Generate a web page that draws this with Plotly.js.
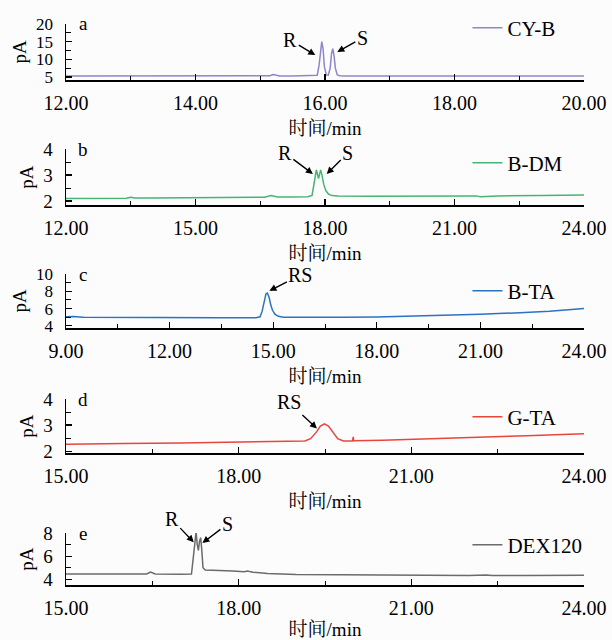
<!DOCTYPE html>
<html>
<head>
<meta charset="utf-8">
<script src="https://cdn.plot.ly/plotly-3.0.1.min.js"></script>
<style>html,body{margin:0;padding:0;background:#fcfcfc;}#chart{width:612px;height:640px;}</style>
</head>
<body>
<div id="chart"></div>
<script>
// ---- data ----
const namesSeries = ['CY-B', 'B-DM', 'B-TA', 'G-TA', 'DEX120'];
const panelLetters = ['a', 'b', 'c', 'd', 'e'];

const cybTime = [12.0, 13.0, 14.0, 15.0, 15.15, 15.2, 15.25, 15.3, 15.5, 15.8, 15.88, 15.91, 15.93, 15.95, 15.97, 15.99, 16.02, 16.05, 16.08, 16.10, 16.12, 16.14, 16.16, 16.19, 16.23, 16.3, 16.6, 17.0, 18.0, 19.0, 19.5, 19.6, 19.7, 20.0];
const cybSignal = [5.3, 5.3, 5.3, 5.3, 5.35, 5.7, 5.4, 5.3, 5.3, 5.3, 5.5, 8.5, 13.0, 15.0, 13.0, 8.0, 5.6, 5.5, 7.5, 11.5, 13.0, 11.0, 7.5, 5.6, 5.35, 5.3, 5.3, 5.3, 5.3, 5.3, 5.3, 5.2, 5.3, 5.3];

const bdmTime = [12.0, 12.5, 13.0, 13.4, 13.5, 13.6, 14.0, 15.0, 16.0, 16.6, 16.75, 16.9, 17.2, 17.6, 17.70, 17.74, 17.77, 17.80, 17.83, 17.85, 17.87, 17.90, 17.93, 17.97, 18.02, 18.08, 18.16, 18.3, 19.0, 20.0, 21.0, 21.5, 21.6, 22.0, 23.0, 23.5, 24.0];
const bdmSignal = [2.1, 2.1, 2.11, 2.11, 2.15, 2.12, 2.12, 2.13, 2.14, 2.15, 2.21, 2.16, 2.16, 2.17, 2.22, 2.65, 3.05, 3.2, 3.0, 2.86, 3.0, 3.2, 3.0, 2.65, 2.4, 2.27, 2.21, 2.2, 2.19, 2.19, 2.19, 2.2, 2.17, 2.2, 2.21, 2.23, 2.23];

const btaTime = [9.0, 9.2, 9.5, 10.5, 12.0, 13.5, 14.5, 14.62, 14.68, 14.74, 14.79, 14.83, 14.88, 14.93, 14.98, 15.05, 15.15, 15.3, 16.0, 17.0, 18.0, 19.0, 20.0, 21.0, 22.0, 23.0, 24.0];
const btaSignal = [5.05, 5.08, 5.0, 4.97, 4.95, 4.93, 4.95, 5.05, 5.7, 6.9, 7.7, 7.8, 7.3, 6.4, 5.8, 5.35, 5.1, 5.0, 4.97, 4.98, 5.02, 5.1, 5.2, 5.33, 5.5, 5.7, 6.0];

const gtaTime = [15.0, 15.5, 16.0, 17.0, 18.0, 18.5, 19.0, 19.15, 19.25, 19.35, 19.42, 19.49, 19.56, 19.63, 19.72, 19.82, 19.98, 19.99, 20.0, 20.5, 21.0, 22.0, 23.0, 24.0];
const gtaSignal = [2.27, 2.27, 2.29, 2.31, 2.34, 2.35, 2.37, 2.39, 2.48, 2.73, 2.96, 3.05, 2.96, 2.73, 2.48, 2.39, 2.39, 2.55, 2.4, 2.42, 2.45, 2.51, 2.59, 2.67];

const dexTime = [15.0, 15.5, 16.0, 16.4, 16.47, 16.55, 17.0, 17.18, 17.21, 17.24, 17.26, 17.28, 17.30, 17.32, 17.34, 17.36, 17.38, 17.42, 17.6, 17.9, 18.1, 18.15, 18.25, 18.5, 19.0, 19.5, 19.55, 19.6, 20.0, 21.0, 22.0, 22.3, 22.4, 23.0, 24.0];
const dexSignal = [4.45, 4.45, 4.43, 4.45, 4.62, 4.45, 4.43, 4.45, 5.8, 7.6, 8.1, 7.0, 6.5, 7.3, 7.6, 6.5, 5.0, 4.8, 4.78, 4.72, 4.65, 4.7, 4.6, 4.5, 4.4, 4.38, 4.43, 4.38, 4.35, 4.32, 4.33, 4.37, 4.33, 4.33, 4.35];

const xRanges = [[12, 20], [12, 24], [9, 24], [15, 24], [15, 24]];
const xMajorStep = [2, 3, 3, 3, 3];
const xMinorStep = [1, 1.5, 1.5, 1.5, 1.5];
const yRanges = [[4.15, 20], [1.85, 4], [3.75, 10], [1.93, 4], [3.5, 8]];
const yTickValues = [[5, 10, 15, 20], [2, 3, 4], [4, 6, 8, 10], [2, 3, 4], [4, 6, 8]];
const yMinorStep = [2.5, 0.5, 1, 0.5, 1];

// annotations: panel index, label, target x, target y, text offset x, text offset y
const peakPanel = [0, 0, 1, 1, 2, 3, 4, 4];
const peakLabel = ['R', 'S', 'R', 'S', 'RS', 'RS', 'R', 'S'];
const peakX = [15.85, 16.19, 17.72, 18.04, 14.89, 19.36, 17.22, 17.37];
const peakY = [11.2, 12.1, 3.04, 3.04, 8.05, 2.87, 7.2, 7.13];
const peakAx = [-25, 25, -28, 21, 31, -28, -22, 25];
const peakAy = [-15, -14, -21, -21, -16, -26, -23, -19];

// ---- styling ----
const seriesTimes = [cybTime, bdmTime, btaTime, gtaTime, dexTime];
const seriesSignals = [cybSignal, bdmSignal, btaSignal, gtaSignal, dexSignal];
const colors = ['#8e86c9', '#45b572', '#2b73c2', '#e8453e', '#6b6b6b'];
const fam = '"Liberation Serif", "Times New Roman", "Noto Serif CJK SC", "Noto Sans CJK SC", serif';
const H = 640;
const pxDomains = [[24, 80], [149, 205], [274, 328], [399, 453], [533, 585]];
const legendY = [28, 163, 291, 417, 545];
const yTickFontSize = [17, 19, 17, 19, 19];

const traces = [];
const layout = {
  width: 612, height: 640,
  margin: {l: 66, r: 28, t: 0, b: 0},
  paper_bgcolor: '#fcfcfc', plot_bgcolor: 'rgba(0,0,0,0)',
  font: {family: fam, size: 19, color: '#000'},
  annotations: [],
  showlegend: true
};

for (let i = 0; i < 5; i++) {
  const sfx = i === 0 ? '' : String(i + 1);
  const legName = 'legend' + sfx;
  traces.push({
    x: seriesTimes[i], y: seriesSignals[i], type: 'scatter', mode: 'lines',
    name: namesSeries[i], line: {color: colors[i], width: 1.5},
    xaxis: 'x' + sfx, yaxis: 'y' + sfx, legend: legName
  });
  layout[legName] = {
    x: 0.775, xanchor: 'left', y: 1 - legendY[i] / H, yanchor: 'middle',
    bgcolor: 'rgba(0,0,0,0)', font: {family: fam, size: 21}, itemwidth: 30
  };
  const dom = pxDomains[i];
  layout['xaxis' + sfx] = {
    anchor: 'y' + sfx, range: xRanges[i], domain: [0, 1],
    tick0: xRanges[i][0], dtick: xMajorStep[i], tickformat: '.2f',
    ticks: 'inside', ticklen: 6, tickwidth: 1.2, tickcolor: '#000',
    minor: {ticks: 'inside', ticklen: 4, dtick: xMinorStep[i], tick0: xRanges[i][0], tickcolor: '#000', tickwidth: 1},
    showline: true, linecolor: '#000', linewidth: 1.5,
    showgrid: false, zeroline: false,
    ticklabelstandoff: 4,
    tickfont: {family: fam, size: 20},
    title: {text: '时间/min', font: {family: fam, size: 19}, standoff: 9}
  };
  layout['yaxis' + sfx] = {
    anchor: 'x' + sfx, range: yRanges[i],
    domain: [1 - dom[1] / H, 1 - dom[0] / H],
    tickvals: yTickValues[i],
    ticks: 'inside', ticklen: 6, tickwidth: 1.2, tickcolor: '#000',
    minor: {ticks: 'inside', ticklen: 5, dtick: yMinorStep[i], tick0: 0, tickcolor: '#000', tickwidth: 1},
    showline: true, linecolor: '#000', linewidth: 1.5,
    showgrid: false, zeroline: false,
    ticklabelstandoff: 8,
    tickfont: {family: fam, size: yTickFontSize[i]},
    title: {text: 'pA', font: {family: fam, size: 19}, standoff: 4}
  };
  layout.annotations.push({
    text: panelLetters[i], xref: 'x' + sfx + ' domain', yref: 'y' + sfx + ' domain',
    x: 0.033, y: 1, xanchor: 'center', yanchor: 'middle', showarrow: false,
    font: {family: fam, size: 19}
  });
}

for (let k = 0; k < peakLabel.length; k++) {
  const p = peakPanel[k];
  const sfx = p === 0 ? '' : String(p + 1);
  layout.annotations.push({
    text: peakLabel[k], xref: 'x' + sfx, yref: 'y' + sfx,
    x: peakX[k], y: peakY[k], ax: peakAx[k], ay: peakAy[k],
    showarrow: true, arrowhead: 2, arrowsize: 1, arrowwidth: 1.4, arrowcolor: '#000',
    font: {family: fam, size: 20}
  });
}

Plotly.newPlot('chart', traces, layout, {displayModeBar: false, staticPlot: true});
</script>
</body>
</html>
